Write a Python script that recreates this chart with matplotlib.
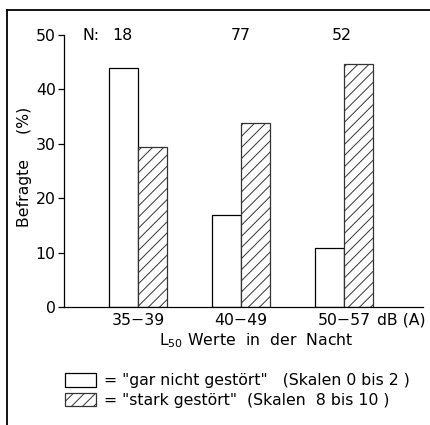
import matplotlib
matplotlib.use('Agg')
import matplotlib.pyplot as plt
from matplotlib.patches import Patch
from matplotlib.lines import Line2D
import numpy as np

plt.rcParams['font.family'] = ['DejaVu Sans']
plt.rcParams['mathtext.default'] = 'regular'
plt.rcParams['hatch.linewidth'] = 0.7

# Daten
gruppen = ['35\u221239', '40\u221249', '50\u221257']
n_werte = [18, 77, 52]
gar_nicht = [44.0, 17.0, 10.8]   # Skalen 0 bis 2
stark = [29.4, 33.8, 44.7]       # Skalen 8 bis 10

fs = 11.3
fig = plt.figure(figsize=(4.3, 4.25), dpi=100)
ax = fig.add_axes([64 / 430, 1 - 307 / 425, (423 - 64) / 430, 272 / 425])

x = np.arange(len(gruppen))
w = 0.28
ax.bar(x - w / 2, gar_nicht, w, facecolor='white', edgecolor='black', linewidth=0.9)
ax.bar(x + w / 2, stark, w, facecolor='white', edgecolor='#333333', linewidth=0.9, hatch='///')

ax.set_xlim(-0.718, 2.767)
ax.set_ylim(0, 50)
ax.spines['top'].set_visible(False)
ax.spines['right'].set_visible(False)
ax.spines['left'].set_linewidth(0.9)
ax.spines['bottom'].set_linewidth(0.9)
ax.set_yticks([0, 10, 20, 30, 40, 50])
ax.tick_params(axis='y', direction='out', length=4, width=0.9, pad=2, labelsize=fs)
ax.set_xticks(x)
ax.set_xticklabels(gruppen, fontsize=fs)
ax.tick_params(axis='x', length=0, pad=4)
ax.text(2.32, -1.0, 'dB (A)', fontsize=fs, ha='left', va='top', clip_on=False)

# N-Angaben
ax.text(-0.456, 50, 'N:', fontsize=fs, ha='center', va='center')
for xi, n in zip([-0.15, 1.0, 1.98], n_werte):
    ax.text(xi, 50, str(n), fontsize=fs, ha='center', va='center')

fig.text(25 / 430, 1 - 167 / 425, 'Befragte     (%)', rotation=90, fontsize=fs,
         ha='center', va='center')
fig.text(256 / 430, 1 - 341 / 425, 'L$_{50}$ Werte  in  der  Nacht', fontsize=fs,
         ha='center', va='center')

handles = [Patch(facecolor='white', edgecolor='black', linewidth=0.9),
           Patch(facecolor='white', edgecolor='#333333', linewidth=0.9, hatch='///')]
labels = ['= "gar nicht gestört"   (Skalen 0 bis 2 )',
          '= "stark gestört"  (Skalen  8 bis 10 )']
fig.legend(handles, labels, loc='upper left', bbox_to_anchor=(54 / 430, 1 - 362 / 425),
           frameon=False, fontsize=fs, handlelength=2.0, handleheight=0.95,
           handletextpad=0.5, labelspacing=0.3, borderpad=0.2)

# Rahmen
fig.add_artist(Line2D([7 / 430, 7 / 430], [0, 1 - 10 / 425], color='black', linewidth=1.3))
fig.add_artist(Line2D([7 / 430, 1], [1 - 10 / 425, 1 - 10 / 425], color='black', linewidth=1.3))

fig.savefig('out.png', dpi=100)
